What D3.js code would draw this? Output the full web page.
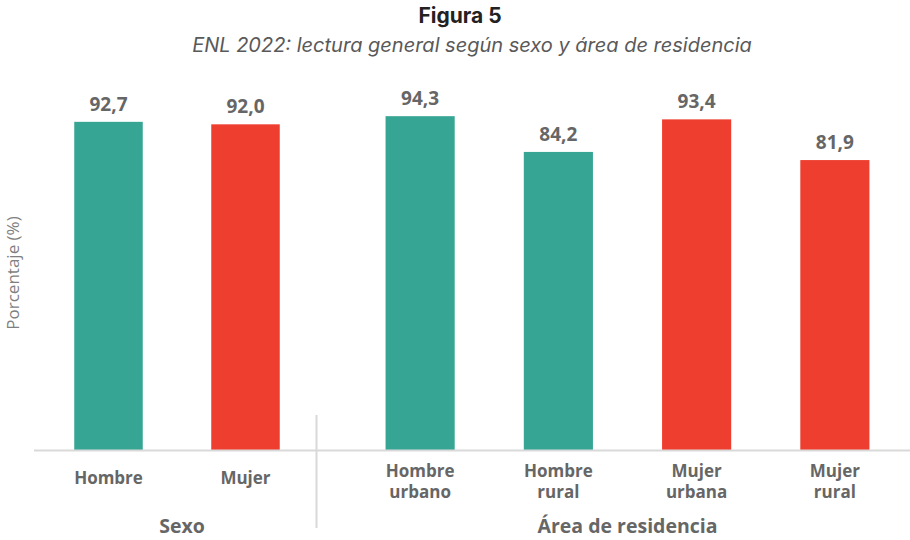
<!DOCTYPE html>
<html>
<head>
<meta charset="utf-8">
<script src="https://cdn.jsdelivr.net/npm/d3@7"></script>
<style>
  body { margin: 0; background: #fff; }
  svg { display: block; }
</style>
</head>
<body>
<div id="chart"></div>
<script>
// data
const groups = ['Sexo', 'Área de residencia']
const categories = [
  ['Hombre'], ['Mujer'],
  ['Hombre', 'urbano'], ['Hombre', 'rural'], ['Mujer', 'urbana'], ['Mujer', 'rural']
]
const categoryGroup = [0, 0, 1, 1, 1, 1]
const values = [92.7, 92.0, 94.3, 84.2, 93.4, 81.9]
const sexes = ['H', 'M', 'H', 'H', 'M', 'M']

const WIDTH = 910
const HEIGHT = 540
const BASE_Y = 450
const TEAL = '#36A593'
const RED = '#EE3E2F'
const LABEL = '#666666'

const svg = d3.select('#chart')
  .append('svg')
  .attr('width', WIDTH)
  .attr('height', HEIGHT)

// title
svg.append('text')
  .attr('x', 460).attr('y', 23)
  .attr('text-anchor', 'middle')
  .style('font-family', 'Inter, sans-serif')
  .style('font-weight', 700)
  .style('font-size', '21px')
  .style('fill', '#222')
  .text('Figura 5')

svg.append('text')
  .attr('x', 472).attr('y', 52)
  .attr('text-anchor', 'middle')
  .style('font-family', 'Inter, sans-serif')
  .style('font-style', 'italic')
  .style('font-size', '20px')
  .style('fill', '#595959')
  .text('ENL 2022: lectura general según sexo y área de residencia')

// y scale
const y = d3.scaleLinear()
  .domain([0, 100])
  .range([BASE_Y, BASE_Y - 354])

// one band scale per group
const groupRanges = [[40, 314], [351, 904]]
const xs = groups.map((g, gi) => d3.scaleBand()
  .domain(d3.range(categories.length).filter(i => categoryGroup[i] === gi))
  .range(groupRanges[gi])
  .paddingInner(0.5)
  .paddingOuter(0.25))

const xOf = i => xs[categoryGroup[i]](i)
const bw = i => xs[categoryGroup[i]].bandwidth()

// y axis label
svg.append('text')
  .attr('transform', `translate(19,${273}) rotate(-90)`)
  .attr('text-anchor', 'middle')
  .style('font-family', '"Open Sans", sans-serif')
  .style('font-weight', 400)
  .style('font-size', '17px')
  .style('fill', '#7f7f7f')
  .text('Porcentaje (%)')

// bars
svg.selectAll('.bar')
  .data(values)
  .enter()
  .append('rect')
  .attr('class', 'bar')
  .attr('x', (d, i) => xOf(i))
  .attr('y', d => y(d))
  .attr('width', (d, i) => bw(i))
  .attr('height', d => BASE_Y - y(d))
  .attr('fill', (d, i) => sexes[i] === 'H' ? TEAL : RED)

// value labels
svg.selectAll('.val')
  .data(values)
  .enter()
  .append('text')
  .attr('class', 'val')
  .attr('x', (d, i) => xOf(i) + bw(i) / 2)
  .attr('y', d => y(d) - 11)
  .attr('text-anchor', 'middle')
  .style('font-family', '"Open Sans", sans-serif')
  .style('font-weight', 700)
  .style('font-size', '19px')
  .style('fill', LABEL)
  .text(d => d3.format('.1f')(d).replace('.', ','))

// baseline
svg.append('line')
  .attr('x1', 34).attr('x2', WIDTH)
  .attr('y1', BASE_Y + 0.5).attr('y2', BASE_Y + 0.5)
  .attr('stroke', '#d9d9d9')
  .attr('stroke-width', 2)

// group separator
svg.append('line')
  .attr('x1', 316.5).attr('x2', 316.5)
  .attr('y1', 415).attr('y2', 528)
  .attr('stroke', '#d9d9d9')
  .attr('stroke-width', 2)

// category labels
const catText = svg.selectAll('.cat')
  .data(categories)
  .enter()
  .append('text')
  .attr('class', 'cat')
  .attr('text-anchor', 'middle')
  .style('font-family', '"Open Sans", sans-serif')
  .style('font-weight', 700)
  .style('font-size', '17px')
  .style('fill', LABEL)

catText.selectAll('tspan')
  .data((d, i) => d.map(t => ({ t, i, n: d.length })))
  .enter()
  .append('tspan')
  .attr('x', d => xOf(d.i) + bw(d.i) / 2)
  .attr('y', (d, k) => d.n === 1 ? 484 : 477 + k * 21)
  .text(d => d.t)

// group labels
svg.selectAll('.grp')
  .data(groups)
  .enter()
  .append('text')
  .attr('class', 'grp')
  .attr('x', (d, gi) => (groupRanges[gi][0] + groupRanges[gi][1]) / 2 + (gi === 0 ? 5 : 0))
  .attr('y', 533)
  .attr('text-anchor', 'middle')
  .style('font-family', '"Open Sans", sans-serif')
  .style('font-weight', 700)
  .style('font-size', '19.5px')
  .style('fill', LABEL)
  .text(d => d)
</script>
</body>
</html>
